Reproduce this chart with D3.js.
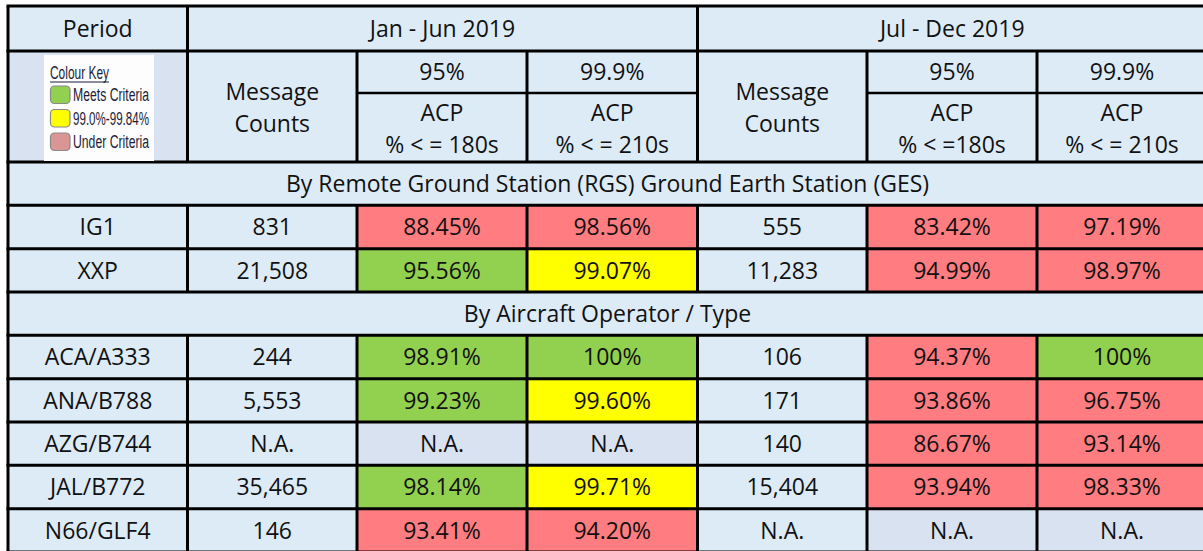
<!DOCTYPE html>
<html>
<head>
<meta charset="utf-8">
<script src="https://cdn.jsdelivr.net/npm/d3@7"></script>
<style>
  html, body { margin: 0; padding: 0; background: #ffffff; }
  svg { display: block; }
</style>
</head>
<body>
<div id="chart"></div>
<script>
// ---------------- DATA ----------------
const periods = ["Jan - Jun 2019", "Jul - Dec 2019"];
const sectionTitles = ["By Remote Ground Station (RGS) Ground Earth Station (GES)", "By Aircraft Operator / Type"];
const rowLabels = ["IG1", "XXP", "ACA/A333", "ANA/B788", "AZG/B744", "JAL/B772", "N66/GLF4"];
const rowSection = [0, 0, 1, 1, 1, 1, 1];
const janCounts = [831, 21508, 244, 5553, null, 35465, 146];
const jan180 = [88.45, 95.56, 98.91, 99.23, null, 98.14, 93.41];
const jan210 = [98.56, 99.07, 100, 99.60, null, 99.71, 94.20];
const julCounts = [555, 11283, 106, 171, 140, 15404, null];
const jul180 = [83.42, 94.99, 94.37, 93.86, 86.67, 93.94, null];
const jul210 = [97.19, 98.97, 100, 96.75, 93.14, 98.33, null];
const targetLabels = ["95%", "99.9%"];
const acpLabelsJan = ["% < = 180s", "% < = 210s"];
const acpLabelsJul = ["% < =180s", "% < = 210s"];
const legendItems = ["Meets Criteria", "99.0%-99.84%", "Under Criteria"];

// ---------------- STYLE / LAYOUT ----------------
const W = 1203, H = 551;
const C = {
  blue: "#DDEBF7", grey: "#D9E2F0", red: "#FF7C80", green: "#92D050",
  yellow: "#FFFF00", pink: "#DA9694", line: "#000000", text: "#111111"
};
const FONT = "'Open Sans', 'Noto Sans', sans-serif";
const FS = 23;
const LFONT = "'Liberation Sans Narrow', 'Liberation Sans', sans-serif";

// column edges
const colW = [179.5, 169.5, 170, 170.5, 169.5, 170, 170];
const xs = [8];
colW.forEach(w => xs.push(xs[xs.length - 1] + w));
const top0 = 6, top1 = 51, subLine = 93, bodyTop = 162, rowH = 43.33;
const nBody = 9;
const y = d3.scaleLinear().domain([0, nBody]).range([bodyTop, bodyTop + nBody * rowH]);

// colour rules
const c180 = d3.scaleThreshold().domain([95]).range([C.red, C.green]);
const c210 = d3.scaleThreshold().domain([99.0, 99.85]).range([C.red, C.yellow, C.green]);
const fmtCount = d3.format(",");
const fmtPct = v => v === 100 ? "100%" : v.toFixed(2) + "%";

// ---------------- DRAW ----------------
const svg = d3.select("#chart").append("svg").attr("width", W).attr("height", H);
const gCells = svg.append("g");
const gText = svg.append("g").attr("font-family", FONT).attr("font-size", FS)
  .attr("fill", C.text).attr("text-anchor", "middle");
const gLines = svg.append("g").attr("stroke", C.line).attr("stroke-width", 3);

function cell(x0, x1, y0, y1, fill) {
  gCells.append("rect").attr("x", x0).attr("y", y0).attr("width", x1 - x0).attr("height", y1 - y0).attr("fill", fill);
}
function text(x, yc, s) {
  gText.append("text").attr("x", x).attr("y", yc).attr("dy", "0.36em").text(s);
}
function hline(x0, x1, yy, sw) {
  gLines.append("line").attr("x1", x0).attr("x2", x1).attr("y1", yy).attr("y2", yy).attr("stroke-width", sw || 3);
}
function vline(xx, y0, y1) {
  gLines.append("line").attr("x1", xx).attr("x2", xx).attr("y1", y0).attr("y2", y1);
}
const mid = (a, b) => (a + b) / 2;

// Header row 1
cell(xs[0], xs[7], top0, bodyTop, C.blue);
text(mid(xs[0], xs[1]), mid(top0, top1), "Period");
text(mid(xs[1], xs[4]), mid(top0, top1), periods[0]);
text(mid(xs[4], xs[7]), mid(top0, top1), periods[1]);

// Header row 2 legend cell
cell(xs[0], xs[1], top1, bodyTop, C.grey);
const lg = svg.append("g");
lg.append("rect").attr("x", 44).attr("y", 55).attr("width", 110).attr("height", 106).attr("fill", "#FDFDFD");
lg.append("text").attr("x", 50).attr("y", 79).attr("font-family", LFONT)
  .attr("font-size", 19).attr("fill", "#1c1c38").attr("textLength", 59).attr("lengthAdjust", "spacingAndGlyphs")
  .text("Colour Key");
lg.append("line").attr("x1", 50).attr("x2", 109).attr("y1", 82).attr("y2", 82).attr("stroke", "#1c1c38").attr("stroke-width", 1.2);
const swatchFills = [C.green, C.yellow, C.pink];
legendItems.forEach((s, i) => {
  const yy = 86 + i * 23.5;
  lg.append("rect").attr("x", 50.5).attr("y", yy).attr("width", 19.5).attr("height", 17.5).attr("rx", 4)
    .attr("fill", swatchFills[i]).attr("stroke", "#8a8a8a").attr("stroke-width", 1.2);
  lg.append("text").attr("x", 73).attr("y", yy + 15).attr("font-family", LFONT)
    .attr("font-size", 18).attr("fill", "#1c1c38").attr("textLength", 76).attr("lengthAdjust", "spacingAndGlyphs").text(s);
});

// Header row 2 other cells
[[1, acpLabelsJan], [4, acpLabelsJul]].forEach(([c, acp]) => {
  text(mid(xs[c], xs[c + 1]), 91.5, "Message");
  text(mid(xs[c], xs[c + 1]), 123.5, "Counts");
  [0, 1].forEach(k => {
    const xc = mid(xs[c + 1 + k], xs[c + 2 + k]);
    text(xc, 72, targetLabels[k]);
    text(xc, 112.5, "ACP");
    text(xc, 145, acp[k]);
  });
});

// Body
const bodyRows = [];
rowLabels.forEach((lab, i) => {
  if (i === 0 || rowSection[i] !== rowSection[i - 1]) bodyRows.push({ section: rowSection[i] });
  bodyRows.push({ i });
});
bodyRows.forEach((row, k) => {
  const y0 = y(k), y1 = y(k + 1), yc = mid(y0, y1);
  if (row.section !== undefined) {
    cell(xs[0], xs[7], y0, y1, C.blue);
    text(mid(xs[0], xs[7]), yc, sectionTitles[row.section]);
    return;
  }
  const i = row.i;
  const vals = [
    { v: rowLabels[i], t: "label" },
    { v: janCounts[i], t: "count" },
    { v: jan180[i], t: "p180" },
    { v: jan210[i], t: "p210" },
    { v: julCounts[i], t: "count" },
    { v: jul180[i], t: "p180" },
    { v: jul210[i], t: "p210" }
  ];
  vals.forEach((d, c) => {
    let fill = C.blue, s;
    if (d.t === "label") s = d.v;
    else if (d.v === null) { s = "N.A."; fill = d.t === "count" ? C.blue : C.grey; }
    else if (d.t === "count") s = fmtCount(d.v);
    else { s = fmtPct(d.v); fill = d.t === "p180" ? c180(d.v) : c210(d.v); }
    cell(xs[c], xs[c + 1], y0, y1, fill);
    text(mid(xs[c], xs[c + 1]), yc, s);
  });
});

// Grid lines
hline(xs[0] - 1.5, xs[7], top0);
hline(xs[0] - 1.5, xs[7], top1);
hline(xs[2], xs[4], subLine, 2.5);
hline(xs[5], xs[7], subLine, 2.5);
for (let k = 0; k <= nBody; k++) hline(xs[0] - 1.5, xs[7], y(k));
vline(xs[0], top0, H + 5);
vline(xs[1], top0, bodyTop);
vline(xs[4], top0, bodyTop);
[2, 3, 5, 6].forEach(c => vline(xs[c], top1, bodyTop));
bodyRows.forEach((row, k) => {
  if (row.section !== undefined) return;
  for (let c = 1; c <= 6; c++) vline(xs[c], y(k), y(k + 1));
});
</script>
</body>
</html>
